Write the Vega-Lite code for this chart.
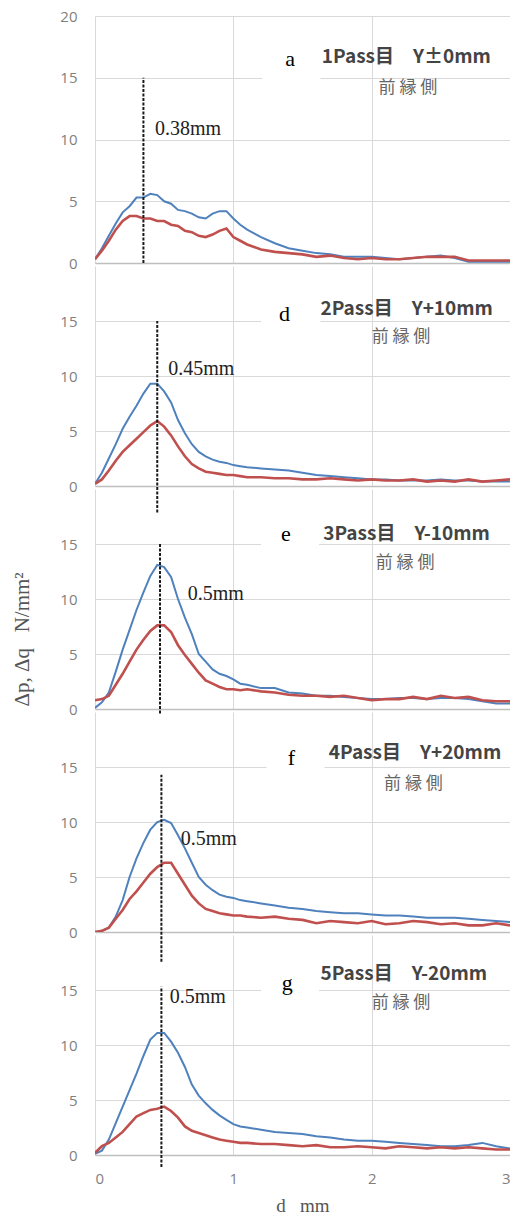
{
  "$schema": "https://vega.github.io/schema/vega-lite/v6.json",
  "padding": {"left": 11, "top": 9, "right": 0, "bottom": 0},
  "background": "white",
  "spacing": 3,
  "bounds": "flush",
  "config": {
    "view": {"stroke": null},
    "axis": {"gridColor": "#d9d9d9", "gridWidth": 1, "labelFont": "Open Sans", "labelFontSize": 15, "labelColor": "#7f7f7f", "ticks": false}
  },
  "datasets": {
    "p1": [
      {"x":0.00,"b":0.3,"r":0.3},{"x":0.05,"b":1.2,"r":1.0},{"x":0.10,"b":2.2,"r":1.8},{"x":0.15,"b":3.2,"r":2.7},
      {"x":0.20,"b":4.1,"r":3.4},{"x":0.25,"b":4.6,"r":3.8},{"x":0.30,"b":5.3,"r":3.8},{"x":0.35,"b":5.3,"r":3.6},
      {"x":0.40,"b":5.6,"r":3.6},{"x":0.45,"b":5.5,"r":3.4},{"x":0.50,"b":5.0,"r":3.4},{"x":0.55,"b":4.8,"r":3.1},
      {"x":0.60,"b":4.3,"r":3.0},{"x":0.65,"b":4.2,"r":2.6},{"x":0.70,"b":4.0,"r":2.5},{"x":0.75,"b":3.7,"r":2.2},
      {"x":0.80,"b":3.6,"r":2.1},{"x":0.85,"b":4.0,"r":2.3},{"x":0.90,"b":4.2,"r":2.6},{"x":0.95,"b":4.2,"r":2.8},
      {"x":1.00,"b":3.6,"r":2.1},{"x":1.05,"b":3.1,"r":1.8},{"x":1.10,"b":2.7,"r":1.5},{"x":1.15,"b":2.4,"r":1.3},
      {"x":1.20,"b":2.1,"r":1.1},{"x":1.30,"b":1.6,"r":0.9},{"x":1.40,"b":1.2,"r":0.8},{"x":1.50,"b":1.0,"r":0.7},
      {"x":1.60,"b":0.8,"r":0.5},{"x":1.70,"b":0.7,"r":0.6},{"x":1.80,"b":0.5,"r":0.4},{"x":1.90,"b":0.5,"r":0.3},
      {"x":2.00,"b":0.5,"r":0.4},{"x":2.10,"b":0.4,"r":0.3},{"x":2.20,"b":0.3,"r":0.3},{"x":2.30,"b":0.4,"r":0.4},
      {"x":2.40,"b":0.5,"r":0.5},{"x":2.50,"b":0.6,"r":0.5},{"x":2.60,"b":0.4,"r":0.5},{"x":2.70,"b":0.1,"r":0.2},
      {"x":2.80,"b":0.1,"r":0.2},{"x":2.90,"b":0.1,"r":0.2},{"x":3.00,"b":0.1,"r":0.2}
    ],
    "p2": [
      {"x":0.00,"b":0.2,"r":0.2},{"x":0.05,"b":1.2,"r":0.6},{"x":0.10,"b":2.5,"r":1.4},{"x":0.15,"b":3.8,"r":2.3},
      {"x":0.20,"b":5.2,"r":3.1},{"x":0.25,"b":6.3,"r":3.7},{"x":0.30,"b":7.3,"r":4.3},{"x":0.35,"b":8.4,"r":4.9},
      {"x":0.40,"b":9.3,"r":5.5},{"x":0.45,"b":9.3,"r":5.9},{"x":0.50,"b":8.6,"r":5.4},{"x":0.55,"b":7.6,"r":4.6},
      {"x":0.60,"b":6.0,"r":3.6},{"x":0.65,"b":4.8,"r":2.7},{"x":0.70,"b":3.8,"r":2.0},{"x":0.75,"b":3.1,"r":1.6},
      {"x":0.80,"b":2.7,"r":1.3},{"x":0.85,"b":2.4,"r":1.2},{"x":0.90,"b":2.2,"r":1.1},{"x":0.95,"b":2.1,"r":1.0},
      {"x":1.00,"b":1.9,"r":1.0},{"x":1.05,"b":1.8,"r":0.9},{"x":1.10,"b":1.7,"r":0.8},{"x":1.20,"b":1.6,"r":0.8},
      {"x":1.30,"b":1.5,"r":0.7},{"x":1.40,"b":1.4,"r":0.7},{"x":1.50,"b":1.2,"r":0.6},{"x":1.60,"b":1.0,"r":0.6},
      {"x":1.70,"b":0.9,"r":0.7},{"x":1.80,"b":0.8,"r":0.6},{"x":1.90,"b":0.7,"r":0.5},{"x":2.00,"b":0.6,"r":0.6},
      {"x":2.10,"b":0.6,"r":0.5},{"x":2.20,"b":0.5,"r":0.5},{"x":2.30,"b":0.5,"r":0.6},{"x":2.40,"b":0.5,"r":0.4},
      {"x":2.50,"b":0.6,"r":0.5},{"x":2.60,"b":0.5,"r":0.4},{"x":2.70,"b":0.5,"r":0.6},{"x":2.80,"b":0.4,"r":0.4},
      {"x":2.90,"b":0.4,"r":0.5},{"x":3.00,"b":0.4,"r":0.6}
    ],
    "p3": [
      {"x":0.00,"b":0.1,"r":0.8},{"x":0.05,"b":0.6,"r":0.9},{"x":0.10,"b":1.5,"r":1.2},{"x":0.15,"b":3.4,"r":2.2},
      {"x":0.20,"b":5.4,"r":3.2},{"x":0.25,"b":7.2,"r":4.3},{"x":0.30,"b":9.0,"r":5.4},{"x":0.35,"b":10.6,"r":6.3},
      {"x":0.40,"b":12.1,"r":7.1},{"x":0.45,"b":13.1,"r":7.6},{"x":0.50,"b":12.9,"r":7.6},{"x":0.55,"b":12.0,"r":7.0},
      {"x":0.60,"b":10.0,"r":5.8},{"x":0.65,"b":8.3,"r":4.9},{"x":0.70,"b":6.8,"r":4.1},{"x":0.75,"b":5.0,"r":3.3},
      {"x":0.80,"b":4.3,"r":2.6},{"x":0.85,"b":3.6,"r":2.3},{"x":0.90,"b":3.2,"r":2.0},{"x":0.95,"b":3.0,"r":1.8},
      {"x":1.00,"b":2.7,"r":1.8},{"x":1.05,"b":2.3,"r":1.7},{"x":1.10,"b":2.2,"r":1.8},{"x":1.20,"b":1.9,"r":1.6},
      {"x":1.30,"b":1.9,"r":1.5},{"x":1.40,"b":1.5,"r":1.3},{"x":1.50,"b":1.4,"r":1.2},{"x":1.60,"b":1.2,"r":1.2},
      {"x":1.70,"b":1.2,"r":1.1},{"x":1.80,"b":1.1,"r":1.2},{"x":1.90,"b":1.0,"r":1.0},{"x":2.00,"b":0.9,"r":0.8},
      {"x":2.10,"b":0.9,"r":0.9},{"x":2.20,"b":1.0,"r":0.9},{"x":2.30,"b":1.0,"r":1.1},{"x":2.40,"b":0.9,"r":0.9},
      {"x":2.50,"b":1.0,"r":1.2},{"x":2.60,"b":1.0,"r":1.0},{"x":2.70,"b":0.9,"r":1.1},{"x":2.80,"b":0.7,"r":0.8},
      {"x":2.90,"b":0.5,"r":0.7},{"x":3.00,"b":0.5,"r":0.7}
    ],
    "p4": [
      {"x":0.00,"b":0.0,"r":0.0},{"x":0.05,"b":0.1,"r":0.1},{"x":0.10,"b":0.4,"r":0.4},{"x":0.15,"b":1.4,"r":1.2},
      {"x":0.20,"b":2.9,"r":2.0},{"x":0.25,"b":5.0,"r":3.0},{"x":0.30,"b":6.7,"r":3.7},{"x":0.35,"b":8.1,"r":4.5},
      {"x":0.40,"b":9.3,"r":5.3},{"x":0.45,"b":10.0,"r":5.9},{"x":0.50,"b":10.2,"r":6.3},{"x":0.55,"b":9.9,"r":6.3},
      {"x":0.60,"b":8.8,"r":5.3},{"x":0.65,"b":7.6,"r":4.3},{"x":0.70,"b":6.3,"r":3.3},{"x":0.75,"b":5.0,"r":2.6},
      {"x":0.80,"b":4.3,"r":2.1},{"x":0.85,"b":3.8,"r":1.9},{"x":0.90,"b":3.4,"r":1.7},{"x":0.95,"b":3.2,"r":1.6},
      {"x":1.00,"b":3.1,"r":1.5},{"x":1.05,"b":2.9,"r":1.5},{"x":1.10,"b":2.8,"r":1.4},{"x":1.20,"b":2.6,"r":1.3},
      {"x":1.30,"b":2.4,"r":1.4},{"x":1.40,"b":2.2,"r":1.2},{"x":1.50,"b":2.1,"r":1.1},{"x":1.60,"b":1.9,"r":0.8},
      {"x":1.70,"b":1.8,"r":1.0},{"x":1.80,"b":1.7,"r":0.9},{"x":1.90,"b":1.7,"r":0.8},{"x":2.00,"b":1.6,"r":1.0},
      {"x":2.10,"b":1.5,"r":0.7},{"x":2.20,"b":1.5,"r":0.8},{"x":2.30,"b":1.4,"r":1.0},{"x":2.40,"b":1.3,"r":0.9},
      {"x":2.50,"b":1.3,"r":0.7},{"x":2.60,"b":1.3,"r":0.8},{"x":2.70,"b":1.2,"r":0.6},{"x":2.80,"b":1.1,"r":0.6},
      {"x":2.90,"b":1.0,"r":0.8},{"x":3.00,"b":0.9,"r":0.6}
    ],
    "p5": [
      {"x":0.00,"b":0.1,"r":0.2},{"x":0.05,"b":0.4,"r":0.8},{"x":0.10,"b":1.4,"r":1.1},{"x":0.15,"b":2.9,"r":1.6},
      {"x":0.20,"b":4.4,"r":2.1},{"x":0.25,"b":5.9,"r":2.8},{"x":0.30,"b":7.4,"r":3.5},{"x":0.35,"b":9.0,"r":3.8},
      {"x":0.40,"b":10.5,"r":4.1},{"x":0.45,"b":11.1,"r":4.2},{"x":0.50,"b":11.1,"r":4.4},{"x":0.55,"b":10.3,"r":4.0},
      {"x":0.60,"b":9.3,"r":3.4},{"x":0.65,"b":8.0,"r":2.6},{"x":0.70,"b":6.4,"r":2.2},{"x":0.75,"b":5.4,"r":2.0},
      {"x":0.80,"b":4.7,"r":1.8},{"x":0.85,"b":4.1,"r":1.6},{"x":0.90,"b":3.6,"r":1.4},{"x":0.95,"b":3.2,"r":1.3},
      {"x":1.00,"b":2.8,"r":1.2},{"x":1.05,"b":2.6,"r":1.1},{"x":1.10,"b":2.5,"r":1.1},{"x":1.20,"b":2.3,"r":1.0},
      {"x":1.30,"b":2.1,"r":1.0},{"x":1.40,"b":2.0,"r":0.9},{"x":1.50,"b":1.9,"r":0.8},{"x":1.60,"b":1.7,"r":0.9},
      {"x":1.70,"b":1.6,"r":0.7},{"x":1.80,"b":1.4,"r":0.7},{"x":1.90,"b":1.3,"r":0.8},{"x":2.00,"b":1.3,"r":0.7},
      {"x":2.10,"b":1.2,"r":0.6},{"x":2.20,"b":1.1,"r":0.8},{"x":2.30,"b":1.0,"r":0.7},{"x":2.40,"b":0.9,"r":0.6},
      {"x":2.50,"b":0.8,"r":0.7},{"x":2.60,"b":0.8,"r":0.6},{"x":2.70,"b":0.9,"r":0.7},{"x":2.80,"b":1.1,"r":0.6},
      {"x":2.90,"b":0.8,"r":0.5},{"x":3.00,"b":0.6,"r":0.5}
    ]
  },
  "vconcat": [
    {
      "width": 415, "height": 247,
      "layer": [
        {"data": {"name": "p1"}, "transform": [{"fold": ["b", "r"], "as": ["s", "v"]}],
         "mark": {"type": "line", "clip": true},
         "encoding": {
           "x": {"field": "x", "type": "quantitative", "scale": {"domain": [0, 3], "nice": false}, "axis": {"values": [0,1,2,3], "labels": false, "domain": true, "domainColor": "#bfbfbf", "domainWidth": 1.5, "grid": true, "title": null}},
           "y": {"field": "v", "type": "quantitative", "scale": {"domain": [0, 20], "nice": false}, "axis": {"values": [0,5,10,15,20], "domain": false, "labelPadding": 18, "grid": true, "title": null}},
           "color": {"field": "s", "type": "nominal", "scale": {"domain": ["b", "r"], "range": ["#4f81bd", "#c0504d"]}, "legend": null},
           "strokeWidth": {"field": "s", "type": "nominal", "scale": {"domain": ["b", "r"], "range": [2, 2.6]}, "legend": null}
         }},
        {"data": {"values": [{"x1": 1.21, "x2": 1.63, "y1": 14.6, "y2": 18.1}]}, "mark": {"type": "rect", "color": "white"},
         "encoding": {"x": {"field": "x1", "type": "quantitative", "title": null}, "x2": {"field": "x2"}, "y": {"field": "y1", "type": "quantitative", "title": null}, "y2": {"field": "y2"}}},
        {"data": {"values": [{"x": 0.35, "y1": 0, "y2": 15}]}, "mark": {"type": "rule", "color": "#1a1a1a", "strokeWidth": 2, "strokeDash": [3, 1.5], "clip": false},
         "encoding": {"x": {"field": "x", "type": "quantitative", "title": null}, "y": {"field": "y1", "type": "quantitative", "title": null}, "y2": {"field": "y2"}}},
        {"data": {"values": [{"t": "a", "x": 1.41, "y": 16.5}]}, "mark": {"type": "text", "font": "Liberation Serif", "fontSize": 22, "color": "#000", "align": "center", "baseline": "middle"},
         "encoding": {"x": {"field": "x", "type": "quantitative", "title": null}, "y": {"field": "y", "type": "quantitative", "title": null}, "text": {"field": "t"}}},
        {"data": {"values": [{"t": "1Pass目　Y±0mm", "x": 1.64, "y": 16.7}]}, "mark": {"type": "text", "font": "Noto Sans CJK JP", "fontSize": 19, "fontWeight": "bold", "color": "#444", "align": "left", "baseline": "middle"},
         "encoding": {"x": {"field": "x", "type": "quantitative", "title": null}, "y": {"field": "y", "type": "quantitative", "title": null}, "text": {"field": "t"}}},
        {"data": {"values": [{"t": "前 縁 側", "x": 2.05, "y": 14.2}]}, "mark": {"type": "text", "font": "Noto Sans CJK JP", "fontSize": 17, "color": "#666", "align": "left", "baseline": "middle"},
         "encoding": {"x": {"field": "x", "type": "quantitative", "title": null}, "y": {"field": "y", "type": "quantitative", "title": null}, "text": {"field": "t"}}},
        {"data": {"values": [{"t": "0.38mm", "x": 0.434, "y": 10.85}]}, "mark": {"type": "text", "font": "Liberation Serif", "fontSize": 20, "color": "#222", "align": "left", "baseline": "middle"},
         "encoding": {"x": {"field": "x", "type": "quantitative", "title": null}, "y": {"field": "y", "type": "quantitative", "title": null}, "text": {"field": "t"}}}
      ]
    },
    {
      "width": 415, "height": 220,
      "layer": [
        {"data": {"name": "p2"}, "transform": [{"fold": ["b", "r"], "as": ["s", "v"]}],
         "mark": {"type": "line", "clip": true},
         "encoding": {
           "x": {"field": "x", "type": "quantitative", "scale": {"domain": [0, 3], "nice": false}, "axis": {"values": [0,1,2,3], "labels": false, "domain": true, "domainColor": "#bfbfbf", "domainWidth": 1.5, "grid": true, "title": null}},
           "y": {"field": "v", "type": "quantitative", "scale": {"domain": [0, 20], "nice": false}, "axis": {"values": [0,5,10,15], "domain": false, "labelPadding": 18, "grid": true, "title": null}},
           "color": {"field": "s", "type": "nominal", "scale": {"domain": ["b", "r"], "range": ["#4f81bd", "#c0504d"]}, "legend": null},
           "strokeWidth": {"field": "s", "type": "nominal", "scale": {"domain": ["b", "r"], "range": [2, 2.6]}, "legend": null}
         }},
        {"data": {"values": [{"x1": 1.2, "x2": 1.63, "y1": 14.5, "y2": 17.2}]}, "mark": {"type": "rect", "color": "white"},
         "encoding": {"x": {"field": "x1", "type": "quantitative", "title": null}, "x2": {"field": "x2"}, "y": {"field": "y1", "type": "quantitative", "title": null}, "y2": {"field": "y2"}}},
        {"data": {"values": [{"x": 0.45, "y1": -2.4, "y2": 15}]}, "mark": {"type": "rule", "color": "#1a1a1a", "strokeWidth": 2, "strokeDash": [3, 1.5], "clip": false},
         "encoding": {"x": {"field": "x", "type": "quantitative", "title": null}, "y": {"field": "y1", "type": "quantitative", "title": null}, "y2": {"field": "y2"}}},
        {"data": {"values": [{"t": "d", "x": 1.37, "y": 15.6}]}, "mark": {"type": "text", "font": "Liberation Serif", "fontSize": 22, "color": "#000", "align": "center", "baseline": "middle"},
         "encoding": {"x": {"field": "x", "type": "quantitative", "title": null}, "y": {"field": "y", "type": "quantitative", "title": null}, "text": {"field": "t"}}},
        {"data": {"values": [{"t": "2Pass目　Y+10mm", "x": 1.63, "y": 16.1}]}, "mark": {"type": "text", "font": "Noto Sans CJK JP", "fontSize": 19, "fontWeight": "bold", "color": "#444", "align": "left", "baseline": "middle"},
         "encoding": {"x": {"field": "x", "type": "quantitative", "title": null}, "y": {"field": "y", "type": "quantitative", "title": null}, "text": {"field": "t"}}},
        {"data": {"values": [{"t": "前 縁 側", "x": 2.0, "y": 13.55}]}, "mark": {"type": "text", "font": "Noto Sans CJK JP", "fontSize": 17, "color": "#666", "align": "left", "baseline": "middle"},
         "encoding": {"x": {"field": "x", "type": "quantitative", "title": null}, "y": {"field": "y", "type": "quantitative", "title": null}, "text": {"field": "t"}}},
        {"data": {"values": [{"t": "0.45mm", "x": 0.53, "y": 10.6}]}, "mark": {"type": "text", "font": "Liberation Serif", "fontSize": 20, "color": "#222", "align": "left", "baseline": "middle"},
         "encoding": {"x": {"field": "x", "type": "quantitative", "title": null}, "y": {"field": "y", "type": "quantitative", "title": null}, "text": {"field": "t"}}}
      ]
    },
    {
      "width": 415, "height": 220,
      "layer": [
        {"data": {"name": "p3"}, "transform": [{"fold": ["b", "r"], "as": ["s", "v"]}],
         "mark": {"type": "line", "clip": true},
         "encoding": {
           "x": {"field": "x", "type": "quantitative", "scale": {"domain": [0, 3], "nice": false}, "axis": {"values": [0,1,2,3], "labels": false, "domain": true, "domainColor": "#bfbfbf", "domainWidth": 1.5, "grid": true, "title": null}},
           "y": {"field": "v", "type": "quantitative", "title": "Δp,\u00a0Δq\u00a0\u00a0\u00a0N/mm²", "scale": {"domain": [0, 20], "nice": false}, "axis": {"values": [0,5,10,15], "domain": false, "labelPadding": 18, "grid": true, "titleFont": "Liberation Serif", "titleFontSize": 21, "titleFontWeight": "normal", "titleColor": "#555", "titleAngle": -90, "titleBaseline": "bottom", "titleX": -63, "titleY": 150}},
           "color": {"field": "s", "type": "nominal", "scale": {"domain": ["b", "r"], "range": ["#4f81bd", "#c0504d"]}, "legend": null},
           "strokeWidth": {"field": "s", "type": "nominal", "scale": {"domain": ["b", "r"], "range": [2, 2.6]}, "legend": null}
         }},
        {"data": {"values": [{"x1": 1.2, "x2": 1.62, "y1": 14.5, "y2": 17.5}]}, "mark": {"type": "rect", "color": "white"},
         "encoding": {"x": {"field": "x1", "type": "quantitative", "title": null}, "x2": {"field": "x2"}, "y": {"field": "y1", "type": "quantitative", "title": "Δp,\u00a0Δq\u00a0\u00a0\u00a0N/mm²"}, "y2": {"field": "y2"}}},
        {"data": {"values": [{"x": 0.47, "y1": -0.4, "y2": 15}]}, "mark": {"type": "rule", "color": "#1a1a1a", "strokeWidth": 2, "strokeDash": [3, 1.5], "clip": false},
         "encoding": {"x": {"field": "x", "type": "quantitative", "title": null}, "y": {"field": "y1", "type": "quantitative", "title": "Δp,\u00a0Δq\u00a0\u00a0\u00a0N/mm²"}, "y2": {"field": "y2"}}},
        {"data": {"values": [{"t": "e", "x": 1.38, "y": 15.9}]}, "mark": {"type": "text", "font": "Liberation Serif", "fontSize": 22, "color": "#000", "align": "center", "baseline": "middle"},
         "encoding": {"x": {"field": "x", "type": "quantitative", "title": null}, "y": {"field": "y", "type": "quantitative", "title": "Δp,\u00a0Δq\u00a0\u00a0\u00a0N/mm²"}, "text": {"field": "t"}}},
        {"data": {"values": [{"t": "3Pass目　Y-10mm", "x": 1.65, "y": 15.9}]}, "mark": {"type": "text", "font": "Noto Sans CJK JP", "fontSize": 19, "fontWeight": "bold", "color": "#444", "align": "left", "baseline": "middle"},
         "encoding": {"x": {"field": "x", "type": "quantitative", "title": null}, "y": {"field": "y", "type": "quantitative", "title": "Δp,\u00a0Δq\u00a0\u00a0\u00a0N/mm²"}, "text": {"field": "t"}}},
        {"data": {"values": [{"t": "前 縁 側", "x": 2.03, "y": 13.3}]}, "mark": {"type": "text", "font": "Noto Sans CJK JP", "fontSize": 17, "color": "#666", "align": "left", "baseline": "middle"},
         "encoding": {"x": {"field": "x", "type": "quantitative", "title": null}, "y": {"field": "y", "type": "quantitative", "title": "Δp,\u00a0Δq\u00a0\u00a0\u00a0N/mm²"}, "text": {"field": "t"}}},
        {"data": {"values": [{"t": "0.5mm", "x": 0.67, "y": 10.45}]}, "mark": {"type": "text", "font": "Liberation Serif", "fontSize": 20, "color": "#222", "align": "left", "baseline": "middle"},
         "encoding": {"x": {"field": "x", "type": "quantitative", "title": null}, "y": {"field": "y", "type": "quantitative", "title": "Δp,\u00a0Δq\u00a0\u00a0\u00a0N/mm²"}, "text": {"field": "t"}}}
      ]
    },
    {
      "width": 415, "height": 220,
      "layer": [
        {"data": {"name": "p4"}, "transform": [{"fold": ["b", "r"], "as": ["s", "v"]}],
         "mark": {"type": "line", "clip": true},
         "encoding": {
           "x": {"field": "x", "type": "quantitative", "scale": {"domain": [0, 3], "nice": false}, "axis": {"values": [0,1,2,3], "labels": false, "domain": true, "domainColor": "#bfbfbf", "domainWidth": 1.5, "grid": true, "title": null}},
           "y": {"field": "v", "type": "quantitative", "scale": {"domain": [0, 20], "nice": false}, "axis": {"values": [0,5,10,15], "domain": false, "labelPadding": 18, "grid": true, "title": null}},
           "color": {"field": "s", "type": "nominal", "scale": {"domain": ["b", "r"], "range": ["#4f81bd", "#c0504d"]}, "legend": null},
           "strokeWidth": {"field": "s", "type": "nominal", "scale": {"domain": ["b", "r"], "range": [2, 2.6]}, "legend": null}
         }},
        {"data": {"values": [{"x1": 1.24, "x2": 1.66, "y1": 14.5, "y2": 17.5}]}, "mark": {"type": "rect", "color": "white"},
         "encoding": {"x": {"field": "x1", "type": "quantitative", "title": null}, "x2": {"field": "x2"}, "y": {"field": "y1", "type": "quantitative", "title": null}, "y2": {"field": "y2"}}},
        {"data": {"values": [{"x": 0.48, "y1": -2.7, "y2": 14.3}]}, "mark": {"type": "rule", "color": "#1a1a1a", "strokeWidth": 2, "strokeDash": [3, 1.5], "clip": false},
         "encoding": {"x": {"field": "x", "type": "quantitative", "title": null}, "y": {"field": "y1", "type": "quantitative", "title": null}, "y2": {"field": "y2"}}},
        {"data": {"values": [{"t": "f", "x": 1.42, "y": 15.8}]}, "mark": {"type": "text", "font": "Liberation Serif", "fontSize": 22, "color": "#000", "align": "center", "baseline": "middle"},
         "encoding": {"x": {"field": "x", "type": "quantitative", "title": null}, "y": {"field": "y", "type": "quantitative", "title": null}, "text": {"field": "t"}}},
        {"data": {"values": [{"t": "4Pass目　Y+20mm", "x": 1.69, "y": 16.3}]}, "mark": {"type": "text", "font": "Noto Sans CJK JP", "fontSize": 19, "fontWeight": "bold", "color": "#444", "align": "left", "baseline": "middle"},
         "encoding": {"x": {"field": "x", "type": "quantitative", "title": null}, "y": {"field": "y", "type": "quantitative", "title": null}, "text": {"field": "t"}}},
        {"data": {"values": [{"t": "前 縁 側", "x": 2.09, "y": 13.5}]}, "mark": {"type": "text", "font": "Noto Sans CJK JP", "fontSize": 17, "color": "#666", "align": "left", "baseline": "middle"},
         "encoding": {"x": {"field": "x", "type": "quantitative", "title": null}, "y": {"field": "y", "type": "quantitative", "title": null}, "text": {"field": "t"}}},
        {"data": {"values": [{"t": "0.5mm", "x": 0.62, "y": 8.5}]}, "mark": {"type": "text", "font": "Liberation Serif", "fontSize": 20, "color": "#222", "align": "left", "baseline": "middle"},
         "encoding": {"x": {"field": "x", "type": "quantitative", "title": null}, "y": {"field": "y", "type": "quantitative", "title": null}, "text": {"field": "t"}}}
      ]
    },
    {
      "width": 415, "height": 220,
      "layer": [
        {"data": {"name": "p5"}, "transform": [{"fold": ["b", "r"], "as": ["s", "v"]}],
         "mark": {"type": "line", "clip": true},
         "encoding": {
           "x": {"field": "x", "type": "quantitative", "title": "d\u00a0\u00a0\u00a0mm", "scale": {"domain": [0, 3], "nice": false}, "axis": {"values": [0,1,2,3], "format": "d", "labels": true, "labelPadding": 16, "domain": true, "domainColor": "#bfbfbf", "domainWidth": 1.5, "grid": true, "titleFont": "Liberation Serif", "titleFontSize": 19, "titleFontWeight": "normal", "titleColor": "#555", "titlePadding": 10}},
           "y": {"field": "v", "type": "quantitative", "scale": {"domain": [0, 20], "nice": false}, "axis": {"values": [0,5,10,15], "domain": false, "labelPadding": 18, "grid": true, "title": null}},
           "color": {"field": "s", "type": "nominal", "scale": {"domain": ["b", "r"], "range": ["#4f81bd", "#c0504d"]}, "legend": null},
           "strokeWidth": {"field": "s", "type": "nominal", "scale": {"domain": ["b", "r"], "range": [2, 2.6]}, "legend": null}
         }},
        {"data": {"values": [{"x1": 1.2, "x2": 1.62, "y1": 14.5, "y2": 17.3}]}, "mark": {"type": "rect", "color": "white"},
         "encoding": {"x": {"field": "x1", "type": "quantitative", "title": "d\u00a0\u00a0\u00a0mm"}, "x2": {"field": "x2"}, "y": {"field": "y1", "type": "quantitative", "title": null}, "y2": {"field": "y2"}}},
        {"data": {"values": [{"x": 0.48, "y1": -1.1, "y2": 15.3}]}, "mark": {"type": "rule", "color": "#1a1a1a", "strokeWidth": 2, "strokeDash": [3, 1.5], "clip": false},
         "encoding": {"x": {"field": "x", "type": "quantitative", "title": "d\u00a0\u00a0\u00a0mm"}, "y": {"field": "y1", "type": "quantitative", "title": null}, "y2": {"field": "y2"}}},
        {"data": {"values": [{"t": "g", "x": 1.39, "y": 15.6}]}, "mark": {"type": "text", "font": "Liberation Serif", "fontSize": 22, "color": "#000", "align": "center", "baseline": "middle"},
         "encoding": {"x": {"field": "x", "type": "quantitative", "title": "d\u00a0\u00a0\u00a0mm"}, "y": {"field": "y", "type": "quantitative", "title": null}, "text": {"field": "t"}}},
        {"data": {"values": [{"t": "5Pass目　Y-20mm", "x": 1.63, "y": 16.5}]}, "mark": {"type": "text", "font": "Noto Sans CJK JP", "fontSize": 19, "fontWeight": "bold", "color": "#444", "align": "left", "baseline": "middle"},
         "encoding": {"x": {"field": "x", "type": "quantitative", "title": "d\u00a0\u00a0\u00a0mm"}, "y": {"field": "y", "type": "quantitative", "title": null}, "text": {"field": "t"}}},
        {"data": {"values": [{"t": "前 縁 側", "x": 2.0, "y": 13.8}]}, "mark": {"type": "text", "font": "Noto Sans CJK JP", "fontSize": 17, "color": "#666", "align": "left", "baseline": "middle"},
         "encoding": {"x": {"field": "x", "type": "quantitative", "title": "d\u00a0\u00a0\u00a0mm"}, "y": {"field": "y", "type": "quantitative", "title": null}, "text": {"field": "t"}}},
        {"data": {"values": [{"t": "0.5mm", "x": 0.54, "y": 14.4}]}, "mark": {"type": "text", "font": "Liberation Serif", "fontSize": 20, "color": "#222", "align": "left", "baseline": "middle"},
         "encoding": {"x": {"field": "x", "type": "quantitative", "title": "d\u00a0\u00a0\u00a0mm"}, "y": {"field": "y", "type": "quantitative", "title": null}, "text": {"field": "t"}}}
      ]
    }
  ]
}
